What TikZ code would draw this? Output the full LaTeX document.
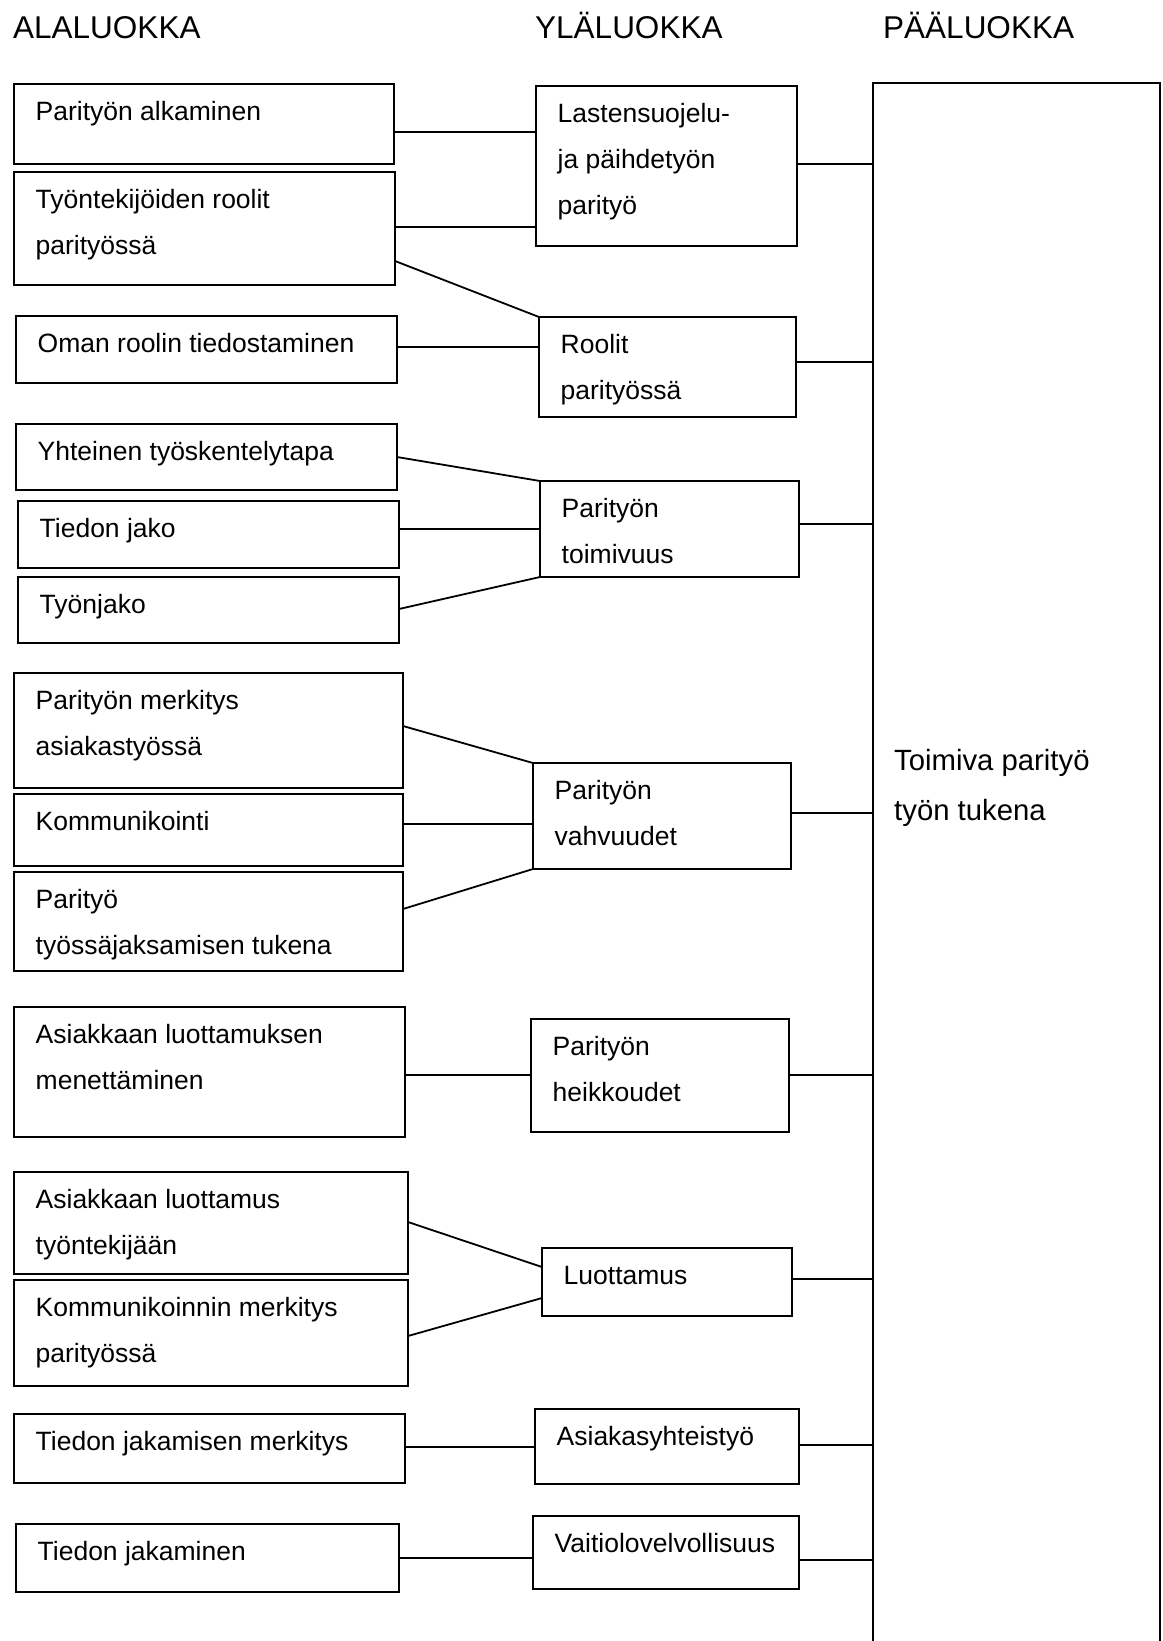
\documentclass[tikz,border=0pt]{standalone}
\usepackage{fontspec}
\setmainfont{Liberation Sans}
\usetikzlibrary{positioning}
\newcommand{\topstrut}{\rule{0pt}{24pt}}

\begin{document}
\begin{tikzpicture}[x=1pt, y=-1pt,
   box/.style={draw, line width=2pt, inner sep=0pt, outer sep=0pt, anchor=north west},
   txt/.style={anchor=north west, align=left, inner sep=0pt, xshift=21.5pt, yshift=-12pt,
      font=\fontsize{26.5}{46}\selectfont},
   head/.style={anchor=base west, inner sep=0pt, font=\fontsize{31.5}{36}\selectfont},
   link/.style={line width=1.8pt}]

   \useasboundingbox (0,0) rectangle (1162,1641);

   % otsikot
   \node[head] (hala) at (13,38) {ALALUOKKA};
   \node[head] (hyla) at (535,38) {YLÄLUOKKA};
   \node[head] (hpaa) at (883,38) {PÄÄLUOKKA};

   % pääluokka
   \node[box, minimum width=287, minimum height=1700] (main) at (873,83) {};
   \node[anchor=north west, inner sep=0pt, align=left, font=\fontsize{29.3}{50}\selectfont]
      (maint) at (894,746) {\topstrut Toimiva parityö\\työn tukena};

   % alaluokat
   \node[box, minimum width=380, minimum height=80] (a1) at (14,84) {};
   \node[txt] (a1t) at (a1.north west) {\topstrut Parityön alkaminen};

   \node[box, minimum width=381, minimum height=113] (a2) at (14,172) {};
   \node[txt] (a2t) at (a2.north west) {\topstrut Työntekijöiden roolit\\parityössä};

   \node[box, minimum width=381, minimum height=67] (a3) at (16,316) {};
   \node[txt] (a3t) at (a3.north west) {\topstrut Oman roolin tiedostaminen};

   \node[box, minimum width=381, minimum height=66] (a4) at (16,424) {};
   \node[txt] (a4t) at (a4.north west) {\topstrut Yhteinen työskentelytapa};

   \node[box, minimum width=381, minimum height=67] (a5) at (18,501) {};
   \node[txt] (a5t) at (a5.north west) {\topstrut Tiedon jako};

   \node[box, minimum width=381, minimum height=66] (a6) at (18,577) {};
   \node[txt] (a6t) at (a6.north west) {\topstrut Työnjako};

   \node[box, minimum width=389, minimum height=115] (a7) at (14,673) {};
   \node[txt] (a7t) at (a7.north west) {\topstrut Parityön merkitys\\asiakastyössä};

   \node[box, minimum width=389, minimum height=72] (a8) at (14,794) {};
   \node[txt] (a8t) at (a8.north west) {\topstrut Kommunikointi};

   \node[box, minimum width=389, minimum height=99] (a9) at (14,872) {};
   \node[txt] (a9t) at (a9.north west) {\topstrut Parityö\\työssäjaksamisen tukena};

   \node[box, minimum width=391, minimum height=130] (a10) at (14,1007) {};
   \node[txt] (a10t) at (a10.north west) {\topstrut Asiakkaan luottamuksen\\menettäminen};

   \node[box, minimum width=394, minimum height=102] (a11) at (14,1172) {};
   \node[txt] (a11t) at (a11.north west) {\topstrut Asiakkaan luottamus\\työntekijään};

   \node[box, minimum width=394, minimum height=106] (a12) at (14,1280) {};
   \node[txt] (a12t) at (a12.north west) {\topstrut Kommunikoinnin merkitys\\parityössä};

   \node[box, minimum width=391, minimum height=69] (a13) at (14,1414) {};
   \node[txt] (a13t) at (a13.north west) {\topstrut Tiedon jakamisen merkitys};

   \node[box, minimum width=383, minimum height=68] (a14) at (16,1524) {};
   \node[txt] (a14t) at (a14.north west) {\topstrut Tiedon jakaminen};

   % yläluokat
   \node[box, minimum width=261, minimum height=160] (m1) at (536,86) {};
   \node[txt] (m1t) at (m1.north west) {\topstrut Lastensuojelu-\\ja päihdetyön\\parityö};

   \node[box, minimum width=257, minimum height=100] (m2) at (539,317) {};
   \node[txt] (m2t) at (m2.north west) {\topstrut Roolit\\parityössä};

   \node[box, minimum width=259, minimum height=96] (m3) at (540,481) {};
   \node[txt] (m3t) at (m3.north west) {\topstrut Parityön\\toimivuus};

   \node[box, minimum width=258, minimum height=106] (m4) at (533,763) {};
   \node[txt] (m4t) at (m4.north west) {\topstrut Parityön\\vahvuudet};

   \node[box, minimum width=258, minimum height=113] (m5) at (531,1019) {};
   \node[txt] (m5t) at (m5.north west) {\topstrut Parityön\\heikkoudet};

   \node[box, minimum width=250, minimum height=68] (m6) at (542,1248) {};
   \node[txt] (m6t) at (m6.north west) {\topstrut Luottamus};

   \node[box, minimum width=264, minimum height=75] (m7) at (535,1409) {};
   \node[txt] (m7t) at (m7.north west) {\topstrut Asiakasyhteistyö};

   \node[box, minimum width=266, minimum height=73] (m8) at (533,1516) {};
   \node[txt] (m8t) at (m8.north west) {\topstrut Vaitiolovelvollisuus};

   % yhteydet
   \draw[link] (a1.east |- 0,132) -- (m1.west |- 0,132);
   \draw[link] (a2.east |- 0,227) -- (m1.west |- 0,227);
   \draw[link] (a2.east |- 0,261) -- (m2.north west);
   \draw[link] (a3.east |- 0,347) -- (m2.west |- 0,347);
   \draw[link] (a4.east |- 0,457) -- (m3.north west);
   \draw[link] (a5.east |- 0,529) -- (m3.west |- 0,529);
   \draw[link] (a6.east |- 0,609) -- (m3.south west);
   \draw[link] (a7.east |- 0,726) -- (m4.north west);
   \draw[link] (a8.east |- 0,824) -- (m4.west |- 0,824);
   \draw[link] (a9.east |- 0,909) -- (m4.south west);
   \draw[link] (a10.east |- 0,1075) -- (m5.west |- 0,1075);
   \draw[link] (a11.east |- 0,1222) -- (m6.west |- 0,1267);
   \draw[link] (a12.east |- 0,1336) -- (m6.west |- 0,1298);
   \draw[link] (a13.east |- 0,1447) -- (m7.west |- 0,1447);
   \draw[link] (a14.east |- 0,1558) -- (m8.west |- 0,1558);

   \draw[link] (m1.east |- 0,164) -- (main.west |- 0,164);
   \draw[link] (m2.east |- 0,362) -- (main.west |- 0,362);
   \draw[link] (m3.east |- 0,524) -- (main.west |- 0,524);
   \draw[link] (m4.east |- 0,813) -- (main.west |- 0,813);
   \draw[link] (m5.east |- 0,1075) -- (main.west |- 0,1075);
   \draw[link] (m6.east |- 0,1279) -- (main.west |- 0,1279);
   \draw[link] (m7.east |- 0,1445) -- (main.west |- 0,1445);
   \draw[link] (m8.east |- 0,1560) -- (main.west |- 0,1560);

\end{tikzpicture}
\end{document}
